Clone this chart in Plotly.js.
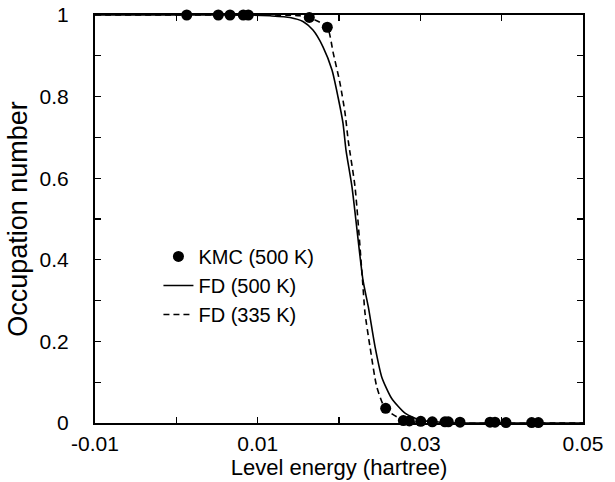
<!DOCTYPE html>
<html>
<head>
<meta charset="utf-8">
<script src="https://cdn.plot.ly/plotly-3.0.1.min.js"></script>
<style>html,body{margin:0;padding:0;background:#fff;}#chart{width:615px;height:482px;}</style>
</head>
<body>
<div id="chart"></div>
<script>
// KMC (500 K) simulation points
const kmcEnergy = [0.00128, 0.00516, 0.0066, 0.00823, 0.00885, 0.01635, 0.01856, 0.02574,
  0.02791, 0.02865, 0.03005, 0.03147, 0.03303, 0.03344, 0.03488, 0.03857, 0.03918, 0.04053, 0.04369, 0.04451];
const kmcOcc = [1, 1, 1, 1, 1, 0.994, 0.970, 0.036,
  0.006, 0.005, 0.004, 0.003, 0.003, 0.003, 0.002, 0.002, 0.002, 0.001, 0.001, 0.001];

// FD (500 K) curve
const fd500Energy = [-0.01, 0.0, 0.00906, 0.01152, 0.01398, 0.01557, 0.0168, 0.01803, 0.01914, 0.01988,
  0.02049, 0.02086, 0.0216, 0.02295, 0.0236, 0.02443, 0.02525, 0.02648, 0.02812, 0.02996, 0.03242, 0.035, 0.05];
const fd500Occ = [1, 1, 1, 0.998, 0.994, 0.984, 0.963, 0.922, 0.865, 0.799,
  0.735, 0.669, 0.578, 0.350, 0.285, 0.187, 0.113, 0.060, 0.024, 0.007, 0.002, 0, 0];

// FD (335 K) curve
const fd335Energy = [-0.01, 0.0, 0.01, 0.01521, 0.01705, 0.01856, 0.0193, 0.02012, 0.02074, 0.02115,
  0.02197, 0.02289, 0.0232, 0.02381, 0.02464, 0.02566, 0.0271, 0.02873, 0.03119, 0.05];
const fd335Occ = [1, 1, 1, 0.998, 0.988, 0.970, 0.906, 0.833, 0.760, 0.690,
  0.579, 0.350, 0.269, 0.187, 0.089, 0.036, 0.015, 0.003, 0, 0];

const xTickVals = [-0.01, 0.01, 0.03, 0.05];
const xTickText = ['-0.01', '0.01', '0.03', '0.05'];
const yTickVals = [0, 0.2, 0.4, 0.6, 0.8, 1];
const yTickText = ['0', '0.2', '0.4', '0.6', '0.8', '1'];

const FONT = 'Liberation Sans, Arial, Helvetica, sans-serif';

const traces = [
  {x: fd500Energy, y: fd500Occ, mode: 'lines', name: 'FD (500 K)', legendrank: 2,
   line: {color: '#000', width: 1.6, shape: 'spline', smoothing: 0.6}},
  {x: fd335Energy, y: fd335Occ, mode: 'lines', name: 'FD (335 K)', legendrank: 3,
   line: {color: '#000', width: 1.6, dash: '6px,4px', shape: 'spline', smoothing: 0.6}},
  {x: kmcEnergy, y: kmcOcc, mode: 'markers', name: 'KMC (500 K)', legendrank: 1, cliponaxis: false,
   marker: {color: '#000', size: 11, symbol: 'circle'}}
];

const axisCommon = {
  showline: true, linecolor: '#000', linewidth: 2, mirror: 'ticks',
  ticks: 'inside', ticklen: 6, tickwidth: 1.2, tickcolor: '#000',
  showgrid: false, zeroline: false,
  tickfont: {family: FONT, size: 21, color: '#000'}
};

const layout = {
  width: 615, height: 482,
  margin: {l: 95, r: 32, t: 15, b: 59},
  paper_bgcolor: '#fff', plot_bgcolor: '#fff',
  font: {family: FONT, color: '#000'},
  showlegend: true,
  legend: {x: 0.13, y: 0.456, xanchor: 'left', yanchor: 'top', bgcolor: 'rgba(0,0,0,0)',
    font: {family: FONT, size: 20, color: '#000'}, tracegroupgap: 0},
  xaxis: Object.assign({}, axisCommon, {
    range: [-0.01, 0.05], tickmode: 'array', tickvals: xTickVals, ticktext: xTickText,
    minor: {dtick: 0.01, tick0: 0, ticks: 'inside', ticklen: 6, tickwidth: 1.2, tickcolor: '#000'},
    ticklabelstandoff: 1,
    title: {text: 'Level energy (hartree)', font: {family: FONT, size: 22, color: '#000'}, standoff: 2}
  }),
  yaxis: Object.assign({}, axisCommon, {
    range: [0, 1], tickmode: 'array', tickvals: yTickVals, ticktext: yTickText,
    minor: {dtick: 0.1, tick0: 0, ticks: 'inside', ticklen: 6, tickwidth: 1.2, tickcolor: '#000'},
    ticklabelstandoff: 20,
    title: {text: 'Occupation number', font: {family: FONT, size: 27, color: '#000'}, standoff: 4}
  })
};

Plotly.newPlot('chart', traces, layout, {displayModeBar: false, staticPlot: true});
</script>
</body>
</html>
